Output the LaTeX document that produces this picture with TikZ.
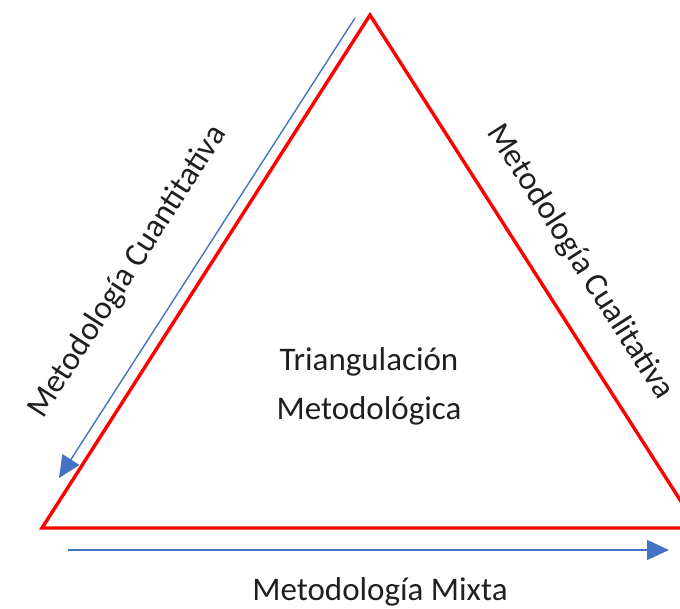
\documentclass[tikz,border=0pt]{standalone}
\usepackage{fontspec}
\setmainfont{Carlito}
\usetikzlibrary{arrows.meta}
\definecolor{offblue}{RGB}{68,114,196}
\begin{document}
\begin{tikzpicture}[x=1pt,y=1pt,
  redline/.style={draw=red,line width=3.4pt,line join=miter},
  bluearrow/.style={draw=offblue,line width=1.4pt,-{Triangle[length=22pt,width=20pt]}},
  lbl/.style={font=\fontsize{33}{49}\selectfont,text=black!88,inner sep=0pt}]
\useasboundingbox (0,0) rectangle (680,608);
\clip (0,0) rectangle (680,608);
\coordinate (A) at (370,593);
\coordinate (B) at (42,80);
\coordinate (C) at (698,80);
\draw[redline] (A) -- (B) -- (C) -- cycle;
\coordinate (s1) at (355,590);
\coordinate (e1) at (59,130);
\draw[bluearrow] (s1) -- (e1);
\coordinate (s2) at (68,58);
\coordinate (e2) at (669,58);
\draw[bluearrow] (s2) -- (e2);
\node[lbl,align=center] (mid) at (369,222) {Triangulación\\Metodológica};
\node[lbl,rotate=57.4] (left) at (128,336) {Metodología Cuantitativa};
\node[lbl,rotate=-57.4] (right) at (580,346) {Metodología Cualitativa};
\node[lbl,anchor=base] (bottom) at (380,8) {Metodología Mixta};
\end{tikzpicture}
\end{document}
